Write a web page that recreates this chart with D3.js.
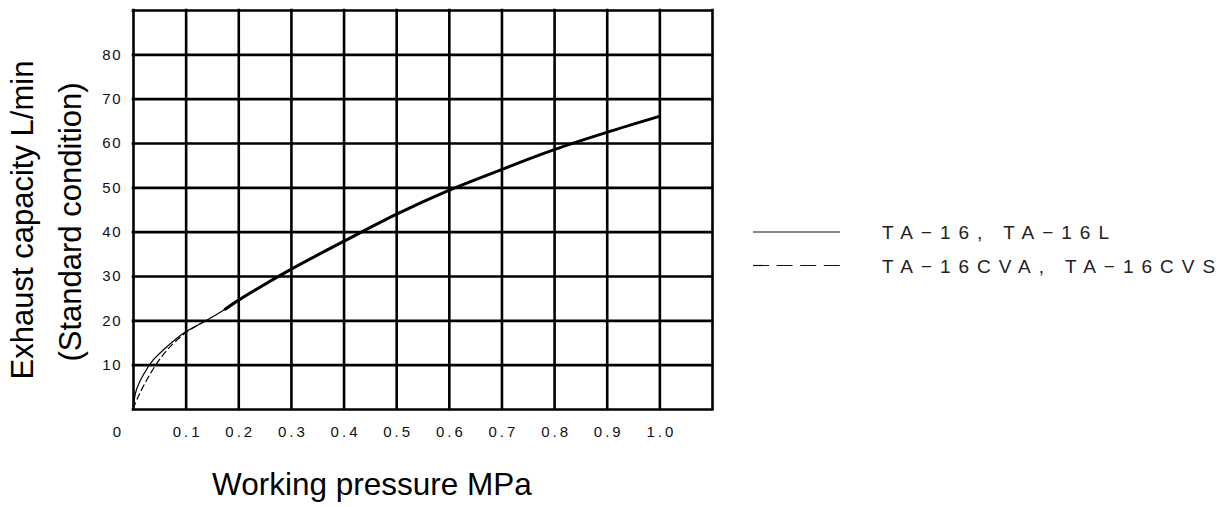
<!DOCTYPE html>
<html>
<head>
<meta charset="utf-8">
<script src="https://cdn.jsdelivr.net/npm/d3@7"></script>
<style>
  body { margin: 0; background: #fff; }
  svg { display: block; font-family: "Liberation Sans", Arial, sans-serif; }
  .grid line { stroke: #000; stroke-width: 2.6; }
  .grid path { display: none; }
  .ticks path { display: none; }
</style>
</head>
<body>
<div id="chart"></div>
<script>
// Grid and tick values
const xGrid = [0, 0.1, 0.2, 0.3, 0.4, 0.5, 0.6, 0.7, 0.8, 0.9, 1.0, 1.1];
const yGrid = [0, 10, 20, 30, 40, 50, 60, 70, 80, 90];
const xTicks = [0.1, 0.2, 0.3, 0.4, 0.5, 0.6, 0.7, 0.8, 0.9, 1.0];
const yTicks = [10, 20, 30, 40, 50, 60, 70, 80];

// TA-16, TA-16L (solid)
const ta16Pressure = [0, 0.007, 0.02, 0.038, 0.064, 0.1, 0.14, 0.175, 0.2, 0.25, 0.3, 0.4, 0.5, 0.6, 0.7, 0.8, 0.9, 1.0];
const ta16Flow = [0.5, 4.5, 7.8, 11.0, 14.0, 17.4, 20.0, 22.5, 24.5, 28.1, 31.5, 37.8, 43.9, 49.3, 54.0, 58.5, 62.4, 66.0];

// TA-16CVA, TA-16CVS (dashed, joins the solid curve)
const cvaPressure = [0, 0.01, 0.025, 0.042, 0.064, 0.1, 0.14];
const cvaFlow = [0, 2.8, 6.3, 9.7, 13.2, 17.2, 20.0];

const legendLabels = ['TA\u221216, TA\u221216L', 'TA\u221216CVA, TA\u221216CVS'];

const margin = { top: 10, left: 133 };
const width = 579;
const height = 399;

const svg = d3.select('#chart')
  .append('svg')
  .attr('width', 1222)
  .attr('height', 507);

const g = svg.append('g')
  .attr('transform', `translate(${margin.left}, ${margin.top})`);

const x = d3.scaleLinear().domain([0, 1.1]).range([0, width]);
const y = d3.scaleLinear().domain([0, 90]).range([height, 0]);

// Grid
g.append('g')
  .attr('class', 'grid')
  .attr('transform', `translate(0, ${height})`)
  .call(d3.axisBottom(x).tickValues(xGrid).tickSize(-height).tickFormat(''));

g.append('g')
  .attr('class', 'grid')
  .call(d3.axisLeft(y).tickValues(yGrid).tickSize(-width).tickFormat(''));

g.selectAll('.grid line').attr('stroke-linecap', 'square');

// Tick labels
const xAx = g.append('g')
  .attr('class', 'ticks')
  .attr('transform', `translate(0, ${height})`)
  .call(d3.axisBottom(x).tickValues(xTicks).tickSize(0).tickPadding(17).tickFormat(d3.format('.1f')));

const yAx = g.append('g')
  .attr('class', 'ticks')
  .call(d3.axisLeft(y).tickValues(yTicks).tickSize(0).tickPadding(11));

g.selectAll('.ticks')
  .attr('font-size', 15)
  .attr('font-family', '"Liberation Sans", Arial, sans-serif');
g.selectAll('.ticks text').attr('fill', '#111');
xAx.selectAll('text').attr('letter-spacing', 3).attr('dx', 1.5);
yAx.selectAll('text').attr('letter-spacing', 1.5);

g.append('text')
  .attr('x', x(0) - 12)
  .attr('y', height + 28)
  .attr('text-anchor', 'end')
  .attr('font-size', 15)
  .attr('fill', '#111')
  .text('0');

// Curves
const line = d3.line()
  .x(d => x(d[0]))
  .y(d => y(d[1]))
  .curve(d3.curveCatmullRom);

const ta16 = d3.zip(ta16Pressure, ta16Flow);
const cva = d3.zip(cvaPressure, cvaFlow);

g.append('path')
  .attr('d', line(cva))
  .attr('fill', 'none')
  .attr('stroke', '#000')
  .attr('stroke-width', 1.2)
  .attr('stroke-dasharray', '7,3');

g.append('path')
  .attr('d', line(ta16))
  .attr('fill', 'none')
  .attr('stroke', '#000')
  .attr('stroke-width', 1.2);

// heavier stroke where the two curves coincide
g.append('path')
  .attr('d', line(ta16.filter(d => d[0] >= 0.175)))
  .attr('fill', 'none')
  .attr('stroke', '#000')
  .attr('stroke-width', 3)
  .attr('stroke-linecap', 'round');

// Axis titles
svg.append('text')
  .attr('transform', 'translate(33, 220) rotate(-90)')
  .attr('text-anchor', 'middle')
  .attr('font-size', 31)
  .text('Exhaust capacity L/min');

svg.append('text')
  .attr('transform', 'translate(81, 222) rotate(-90)')
  .attr('text-anchor', 'middle')
  .attr('font-size', 31)
  .text('(Standard condition)');

svg.append('text')
  .attr('x', 372)
  .attr('y', 495)
  .attr('text-anchor', 'middle')
  .attr('font-size', 31.5)
  .text('Working pressure MPa');

// Legend
const legend = svg.append('g').attr('transform', 'translate(753, 232)');
const dashes = [null, '16,7.6'];
legendLabels.forEach((label, i) => {
  const row = legend.append('g').attr('transform', `translate(0, ${i * 33.5})`);
  row.append('line')
    .attr('x1', 0).attr('x2', 87)
    .attr('stroke', '#111')
    .attr('stroke-width', 1.2)
    .attr('stroke-dasharray', dashes[i]);
  row.append('text')
    .attr('x', 129)
    .attr('y', 7)
    .attr('font-size', 19)
    .attr('letter-spacing', 8)
    .attr('fill', '#222')
    .text(label);
});
</script>
</body>
</html>
